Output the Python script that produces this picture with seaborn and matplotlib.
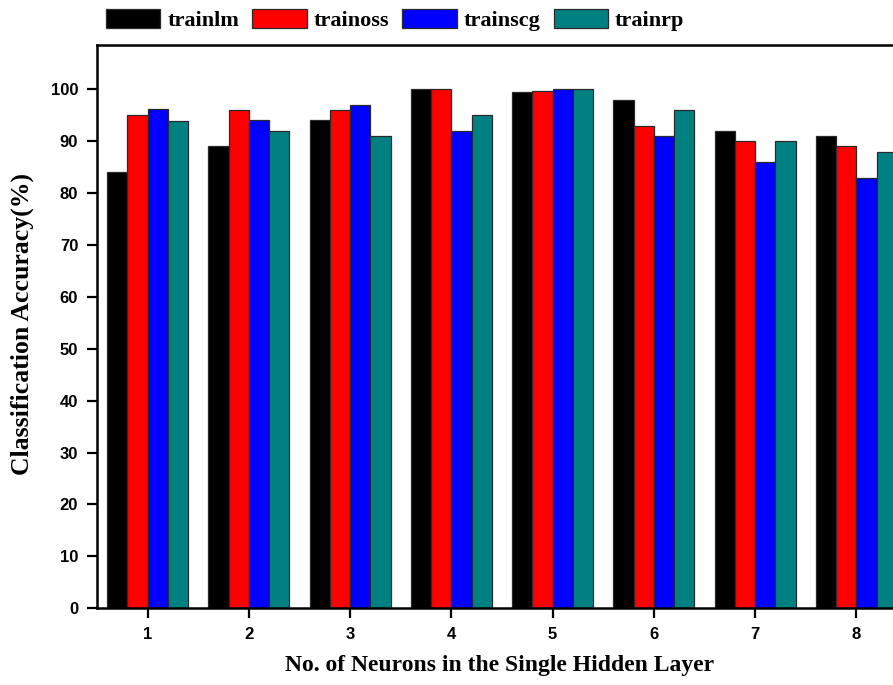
import matplotlib
matplotlib.use("Agg")
import matplotlib.pyplot as plt
import seaborn as sns
import pandas as pd

# Classification accuracy (%) per training algorithm and hidden-layer size
neurons = ["1", "2", "3", "4", "5", "6", "7", "8"]
algorithms = ["trainlm", "trainoss", "trainscg", "trainrp"]
trainlm = [84, 89, 94, 100, 99.5, 98, 92, 91]
trainoss = [95, 96, 96, 100, 99.7, 93, 90, 89]
trainscg = [96.2, 94, 97, 92, 100, 91, 86, 83]
trainrp = [93.8, 92, 91, 95, 100, 96, 90, 88]
colors = ["#000000", "#FF0000", "#0000FF", "#008080"]

series = dict(zip(algorithms, [trainlm, trainoss, trainscg, trainrp]))
df = pd.DataFrame(
    [(n, alg, v) for alg, vals in series.items() for n, v in zip(neurons, vals)],
    columns=["neurons", "algorithm", "accuracy"],
)

sns.set_theme(style="ticks")
plt.rcParams["font.family"] = ["Liberation Sans", "DejaVu Sans"]
plt.rcParams["text.color"] = "black"
plt.rcParams["xtick.color"] = "black"
plt.rcParams["ytick.color"] = "black"

fig = plt.figure(figsize=(8.93, 6.85), dpi=100)
ax = fig.add_axes([0.1086, 0.112, 0.9071, 0.822])

sns.barplot(
    data=df, x="neurons", y="accuracy", hue="algorithm",
    hue_order=algorithms, palette=colors, order=neurons,
    width=0.8, edgecolor="#2a2a2a", linewidth=0.9, saturation=1,
    ax=ax, legend=True,
)

ax.set_xlim(-0.5, 7.5)
ax.set_ylim(0, 108.5)
ax.set_yticks(range(0, 101, 10))

for side in ["left", "bottom", "top", "right"]:
    ax.spines[side].set_visible(True)
    ax.spines[side].set_linewidth(1.8)
    ax.spines[side].set_color("black")

ax.tick_params(axis="both", direction="out", length=7.5, width=1.6,
               color="black", labelcolor="black", labelsize=12, pad=6)
for lab in ax.get_xticklabels() + ax.get_yticklabels():
    lab.set_fontweight("bold")
    lab.set_family(["Liberation Sans", "DejaVu Sans"])

serif = ["Liberation Serif", "DejaVu Serif"]
ax.set_xlabel("")
ax.set_ylabel("")
fig.text(500 / 893, 1 - 665 / 685, "No. of Neurons in the Single Hidden Layer",
         fontsize=17, fontweight="bold", family=serif, color="black",
         ha="center", va="center")
fig.text(22 / 893, 1 - 324 / 685, "Classification Accuracy(%)",
         fontsize=18.5, fontweight="bold", family=serif, color="black",
         ha="center", va="center", rotation=90)

handles, labels = ax.get_legend_handles_labels()
ax.legend_.remove()
fig.legend(
    handles, labels, loc="center left", bbox_to_anchor=(0.0963, 1 - 20 / 685),
    ncol=4, frameon=False, handlelength=2.45, handleheight=0.95,
    handletextpad=0.3, columnspacing=0.6,
    prop={"family": serif, "weight": "bold", "size": 16},
)

fig.savefig("out.png", dpi=100, facecolor="white")
